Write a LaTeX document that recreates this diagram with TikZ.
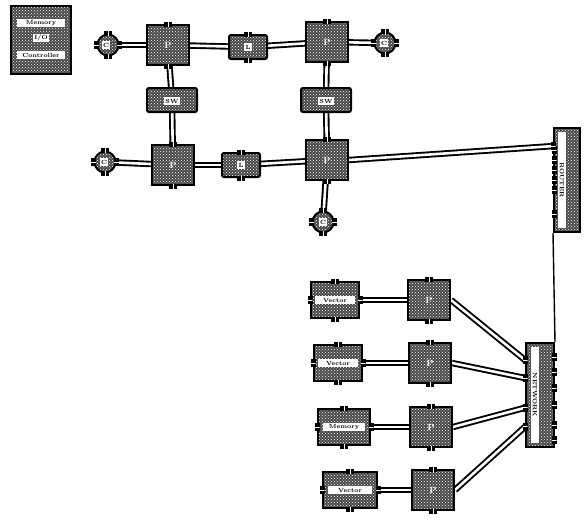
\documentclass[tikz,border=0pt]{standalone}
\usetikzlibrary{patterns,backgrounds,calc}
\begin{document}
\begin{tikzpicture}[x=1pt,y=-1pt,
  dotbox/.style={draw=black, line width=2pt, preaction={fill=black!72}, pattern=crosshatch dots, pattern color=white, inner sep=0pt},
  proc/.style={dotbox, minimum width=42pt, minimum height=40pt},
  link/.style={dotbox, rounded corners=2pt, minimum width=38pt, minimum height=24pt},
  cog/.style={dotbox, circle, minimum size=21pt},
  vbox/.style={dotbox, minimum width=48pt, minimum height=36pt},
  bus/.style={dotbox, minimum height=104pt},
  strip/.style={fill=white, inner sep=1.2pt, minimum height=8pt, font=\fontsize{6}{6}\selectfont\bfseries, text=black},
  glyph/.style={text=white, font=\fontsize{9}{9}\selectfont\bfseries, inner sep=0pt},
  tabh/.style={fill=black, minimum width=8pt, minimum height=5pt, inner sep=0pt, path picture={\draw[white,line width=0.8pt] (path picture bounding box.north) -- (path picture bounding box.south);}},
  tabv/.style={fill=black, minimum width=5pt, minimum height=8pt, inner sep=0pt, path picture={\draw[white,line width=0.8pt] (path picture bounding box.west) -- (path picture bounding box.east);}},
  wire/.style={draw=black, line width=1.9pt, double=white, double distance=2.6pt},
  thinwire/.style={draw=black, line width=1.4pt}]
\useasboundingbox (0,0) rectangle (586,522);

% legend
\node[dotbox, minimum width=60pt, minimum height=68pt] (leg) at (41,40) {};
\node[strip, minimum width=48pt] (leg1) at (41,23) {Memory};
\node[strip] (leg2) at (41,38) {I/O};
\node[strip, minimum width=48pt] (leg3) at (41,55) {Controller};

% upper mesh
\node[cog] (C1) at (108,45) {};
\node[strip] (C1t) at (106,45) {C};
\node[proc] (P1) at (168,45) {};
\node[glyph] (P1t) at (168,45) {P};
\node[link] (L1) at (248,47) {};
\node[strip] (L1t) at (248,47) {L};
\node[proc] (P2) at (327,42) {};
\node[glyph] (P2t) at (327,42) {P};
\node[cog] (C2) at (385,43) {};
\node[strip] (C2t) at (384,43) {C};

\node[link, minimum width=50pt] (L2) at (172,100) {};
\node[strip] (L2t) at (172,101) {SW};
\node[link, minimum width=50pt] (L3) at (326,100) {};
\node[strip] (L3t) at (326,101) {SW};

\node[cog] (C3) at (105,162) {};
\node[strip] (C3t) at (104,162) {C};
\node[proc] (P3) at (173,165) {};
\node[glyph] (P3t) at (173,165) {P};
\node[link] (L4) at (241,165) {};
\node[strip] (L4t) at (241,165) {L};
\node[proc] (P4) at (327,160) {};
\node[glyph] (P4t) at (327,160) {P};
\node[cog] (C4) at (323,222) {};
\node[strip] (C4t) at (323,222) {C};

% buses
\node[bus, minimum width=26pt] (B1) at (567,180) {};
\node[strip, rotate=-90, minimum width=96pt] (B1t) at (562,180) {ROUTER};
\node[bus, minimum width=28pt] (B2) at (540,395) {};
\node[strip, rotate=-90, minimum width=96pt] (B2t) at (535,395) {NETWORK};

% lower rows
\node[vbox] (V1) at (335,300) {};
\node[strip, minimum width=40pt] (V1t) at (335,300) {Vector};
\node[proc] (Q1) at (429,300) {};
\node[glyph] (Q1t) at (429,300) {P};
\node[vbox] (V2) at (338,363) {};
\node[strip, minimum width=40pt] (V2t) at (338,363) {Vector};
\node[proc] (Q2) at (430,363) {};
\node[glyph] (Q2t) at (430,363) {P};
\node[vbox, minimum width=52pt] (V3) at (344,427) {};
\node[strip, minimum width=42pt] (V3t) at (344,427) {Memory};
\node[proc] (Q3) at (431,427) {};
\node[glyph] (Q3t) at (431,427) {P};
\node[vbox, minimum width=54pt] (V4) at (350,490) {};
\node[strip, minimum width=44pt] (V4t) at (350,490) {Vector};
\node[proc] (Q4) at (433,490) {};
\node[glyph] (Q4t) at (433,490) {P};

% tabs
\foreach \n in {P1,P2,P3,P4,Q1,Q2,Q3,Q4,V1,V2,V3,V4,C1,C2,C3,C4,L1,L4} {
  \node[tabh] (\n tn) at (\n.north) {};
  \node[tabh] (\n ts) at (\n.south) {};
}
\foreach \n in {C1,C2,C3,C4,V1,V2,V3,V4} {
  \node[tabv] (\n tw) at (\n.west) {};
  \node[tabv] (\n te) at (\n.east) {};
}
\foreach \yy [count=\i] in {150,160,170,180,190,214} {
  \node[tabv] (B1t\i) at (554,\yy) {};
}
\foreach \yy [count=\i] in {357,372,388,405,425,440} {
  \node[tabv] (B2t\i) at (554,\yy) {};
}

\coordinate (b1in) at ($(B1.north west)!0.18!(B1.south west)$);
\coordinate (e1) at ($(B2.north west)!0.17!(B2.south west)$);
\coordinate (e2) at ($(B2.north west)!0.34!(B2.south west)$);
\coordinate (e3) at ($(B2.north west)!0.62!(B2.south west)$);
\coordinate (e4) at ($(B2.north west)!0.80!(B2.south west)$);
\foreach \c [count=\i] in {e1,e2,e3,e4} {
  \node[tabv] (B2w\i) at (\c) {};
}
\node[tabv] (B1w) at (b1in) {};

% connectors
\begin{scope}[on background layer]
\draw[wire] (C1) -- (P1);
\draw[wire] (P1) -- (L1);
\draw[wire] (L1) -- (P2);
\draw[wire] (P2) -- (C2);
\draw[wire] (P1) -- (L2);
\draw[wire] (L2) -- (P3);
\draw[wire] (P2) -- (L3);
\draw[wire] (L3) -- (P4);
\draw[wire] (C3) -- (P3);
\draw[wire] (P3) -- (L4);
\draw[wire] (L4) -- (P4);
\draw[wire] (P4) -- (C4);
\draw[wire] (P4.east) -- (b1in);
\draw[thinwire] (B1.south west) -- (B2.north east);
\draw[wire] (V1) -- (Q1);
\draw[wire] (V2) -- (Q2);
\draw[wire] (V3) -- (Q3);
\draw[wire] (V4) -- (Q4);
\draw[wire] (Q1.east) -- (e1);
\draw[wire] (Q2.east) -- (e2);
\draw[wire] (Q3.east) -- (e3);
\draw[wire] (Q4.east) -- (e4);
\end{scope}
\end{tikzpicture}
\end{document}
